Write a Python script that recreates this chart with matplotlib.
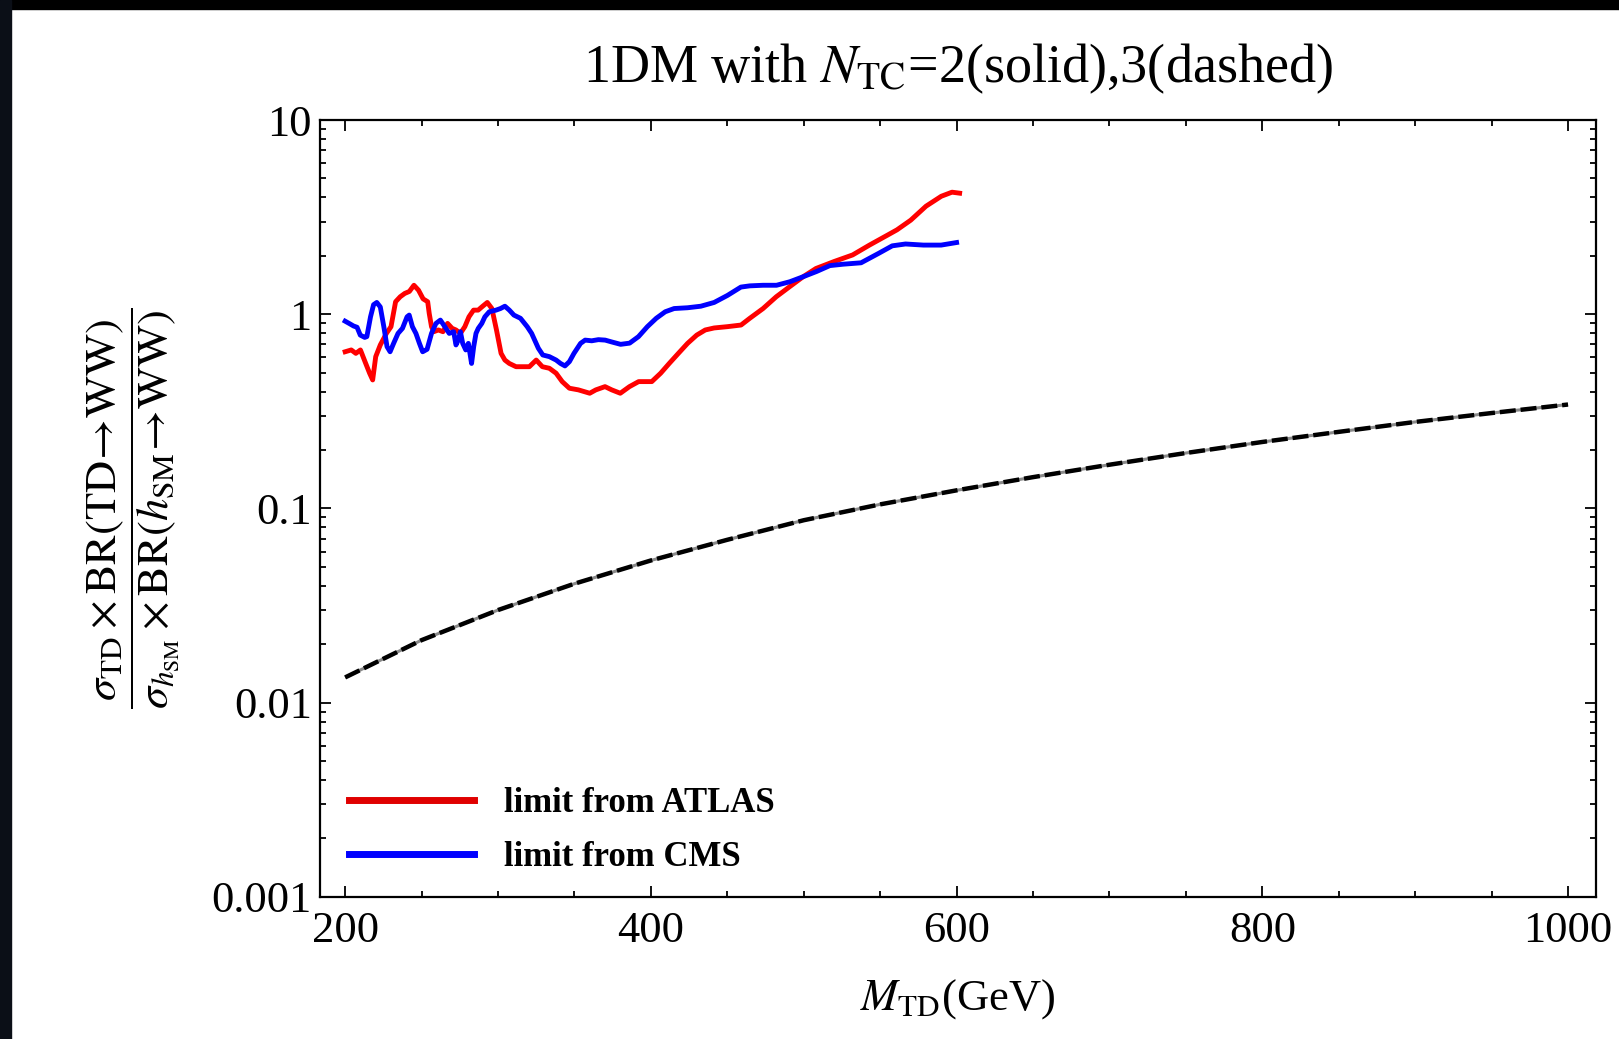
import numpy as np
import matplotlib
matplotlib.use("Agg")
import matplotlib.pyplot as plt
from matplotlib.lines import Line2D
from matplotlib.patches import Rectangle

plt.rcParams['font.family'] = ['Liberation Serif', 'DejaVu Serif']
plt.rcParams['mathtext.fontset'] = 'stix'

# ATLAS limit
atlas_m = [200, 204, 207, 210, 213, 216, 218, 220, 223, 227, 230, 233, 236, 239, 242,
           245, 248, 251, 254, 255, 256.5, 258, 261, 264, 267, 270, 272.5, 275.4, 278.3,
           281, 284, 287, 290, 293, 296, 299, 302, 304.5, 307.4, 311.8, 316, 320.5, 325,
           329, 333.6, 338, 342, 346.7, 352.6, 360, 364, 370, 374.4, 380, 386, 392, 400.6,
           406.4, 412, 418, 424, 430, 435.6, 441.4, 450, 459, 464.7, 473.4, 482, 491,
           499.6, 508, 520, 532, 543, 555, 561, 570, 580, 590, 597, 602]
atlas_r = [0.641, 0.655, 0.629, 0.655, 0.570, 0.497, 0.459, 0.605, 0.695, 0.797, 0.863,
           1.16, 1.23, 1.28, 1.31, 1.41, 1.33, 1.20, 1.16, 1.01, 0.863, 0.813, 0.83, 0.813,
           0.897, 0.846, 0.83, 0.797, 0.863, 0.97, 1.05, 1.05, 1.10, 1.15, 1.07, 0.83,
           0.629, 0.581, 0.558, 0.537, 0.537, 0.537, 0.581, 0.537, 0.527, 0.497, 0.450,
           0.416, 0.408, 0.392, 0.408, 0.424, 0.408, 0.392, 0.424, 0.450, 0.45, 0.497,
           0.558, 0.629, 0.708, 0.781, 0.83, 0.85, 0.863, 0.88, 0.953, 1.07, 1.23, 1.39,
           1.56, 1.72, 1.87, 2.02, 2.27, 2.56, 2.72, 3.05, 3.6, 4.05, 4.25, 4.2]

# CMS limit
cms_m = [200, 202.6, 205.5, 207.8, 209.9, 212.8, 214.2, 216.6, 218.6, 220.7, 223, 225.3,
         227.4, 229.4, 231.7, 234.6, 237.5, 240.5, 241.9, 244, 246.3, 248.6, 250.7, 253.6,
         256.5, 259.4, 262.3, 265.2, 268.1, 271, 272.5, 274, 275.4, 276.9, 278.9, 280.6,
         282.7, 284.1, 285.6, 287.1, 289.4, 291.4, 294.3, 298.7, 301.6, 304.5, 307.4,
         310.4, 314.7, 319.1, 322, 326.4, 329.3, 333.6, 338, 340.9, 343.8, 346.7, 349.7,
         354, 357, 361.3, 365.7, 370.1, 374.4, 380.2, 386.1, 391.9, 397.7, 403.5, 409.4,
         415.2, 424, 432.7, 441.4, 450.1, 458.9, 464.7, 473.4, 482.2, 490.9, 499.6, 508.4,
         517.1, 525.8, 537.5, 549.1, 557.9, 566.6, 578.3, 589.9, 600]
cms_r = [0.921, 0.897, 0.87, 0.857, 0.781, 0.76, 0.767, 0.97, 1.12, 1.15, 1.09, 0.863,
         0.681, 0.641, 0.708, 0.797, 0.846, 0.97, 0.99, 0.863, 0.797, 0.708, 0.641, 0.66,
         0.797, 0.897, 0.933, 0.863, 0.797, 0.813, 0.695, 0.736, 0.813, 0.708, 0.655,
         0.708, 0.558, 0.681, 0.797, 0.846, 0.897, 0.97, 1.03, 1.05, 1.07, 1.10, 1.05,
         0.99, 0.953, 0.863, 0.797, 0.668, 0.617, 0.605, 0.581, 0.558, 0.542, 0.57, 0.629,
         0.708, 0.736, 0.73, 0.74, 0.736, 0.72, 0.70, 0.71, 0.767, 0.863, 0.953, 1.03,
         1.07, 1.08, 1.10, 1.15, 1.25, 1.38, 1.40, 1.41, 1.41, 1.47, 1.56, 1.66, 1.78,
         1.81, 1.84, 2.06, 2.25, 2.3, 2.27, 2.27, 2.34]

# TD prediction, N_TC = 2 (solid) and 3 (dashed) lie on top of each other
td_m = [200, 250, 300, 350, 400, 450, 500, 550, 600, 650, 700, 750, 800, 850, 900, 950, 1000]
td_r = [0.0135, 0.021, 0.030, 0.041, 0.054, 0.069, 0.087, 0.105, 0.124, 0.145, 0.168,
        0.193, 0.22, 0.248, 0.279, 0.31, 0.343]

fig = plt.figure(figsize=(16.19, 10.39), dpi=100)
ax = fig.add_axes([0.1977, 0.1367, 0.7881, 0.7478])

ax.plot(td_m, td_r, color='#8a8a8a', lw=2.2, solid_capstyle='butt')
ax.plot(td_m, td_r, color='black', lw=3.2, dashes=(3.6, 1.1))
ax.plot(atlas_m, atlas_r, color='#ff0000', lw=3.5)
ax.plot(cms_m, cms_r, color='#0000ff', lw=3.5)

ax.set_yscale('log')
ax.set_xlim(183.6, 1018.3)
ax.set_ylim(0.001, 10)
ax.set_xticks([200, 400, 600, 800, 1000])
ax.set_xticks(np.arange(250, 1000, 50), minor=True)
ax.set_yticks([0.001, 0.01, 0.1, 1, 10])
ax.set_yticklabels(['0.001', '0.01', '0.1', '1', '10'])
ax.tick_params(which='both', direction='in', top=True, right=True, labelsize=32, width=1.3)
ax.tick_params(which='major', length=8)
ax.tick_params(which='minor', length=4)
ax.tick_params(axis='x', pad=10)
ax.tick_params(axis='y', pad=6)
for s in ax.spines.values():
    s.set_linewidth(1.6)

ax.set_title(r'1DM with $N_{\rm TC}$=2(solid),3(dashed)', fontsize=39, pad=27)
ax.set_xlabel(r'$M_{\rm TD}$(GeV)', fontsize=32)
ax.xaxis.set_label_coords(0.5, -0.103)
ax.set_ylabel(r'$\dfrac{\sigma_{\rm TD}\times{\rm BR(TD}\!\to\!{\rm WW)}}'
              r'{\sigma_{h_{\rm SM}}\times{\rm BR}(h_{\rm SM}\!\to\!{\rm WW})}$', fontsize=32)
ax.yaxis.set_label_coords(-0.109, 0.5)

handles = [Line2D([], [], color='#e00000', lw=5),
           Line2D([], [], color='#0000ff', lw=5)]
ax.legend(handles, ['limit from ATLAS', 'limit from CMS'], loc='lower left',
          bbox_to_anchor=(0.0227, 0.03), borderaxespad=0, borderpad=0, frameon=False,
          handlelength=3.6, handletextpad=0.85, labelspacing=0.6,
          prop={'family': 'Liberation Serif', 'weight': 'bold', 'size': 25})

# dark screenshot border on top and left
fig.patches.append(Rectangle((0, 1 - 9 / 1039), 1, 9 / 1039, transform=fig.transFigure,
                             color='black', zorder=-1))
fig.patches.append(Rectangle((0, 0), 11 / 1619, 1, transform=fig.transFigure,
                             color='#0b0f17', zorder=-1))

fig.savefig('out.png', dpi=100)
